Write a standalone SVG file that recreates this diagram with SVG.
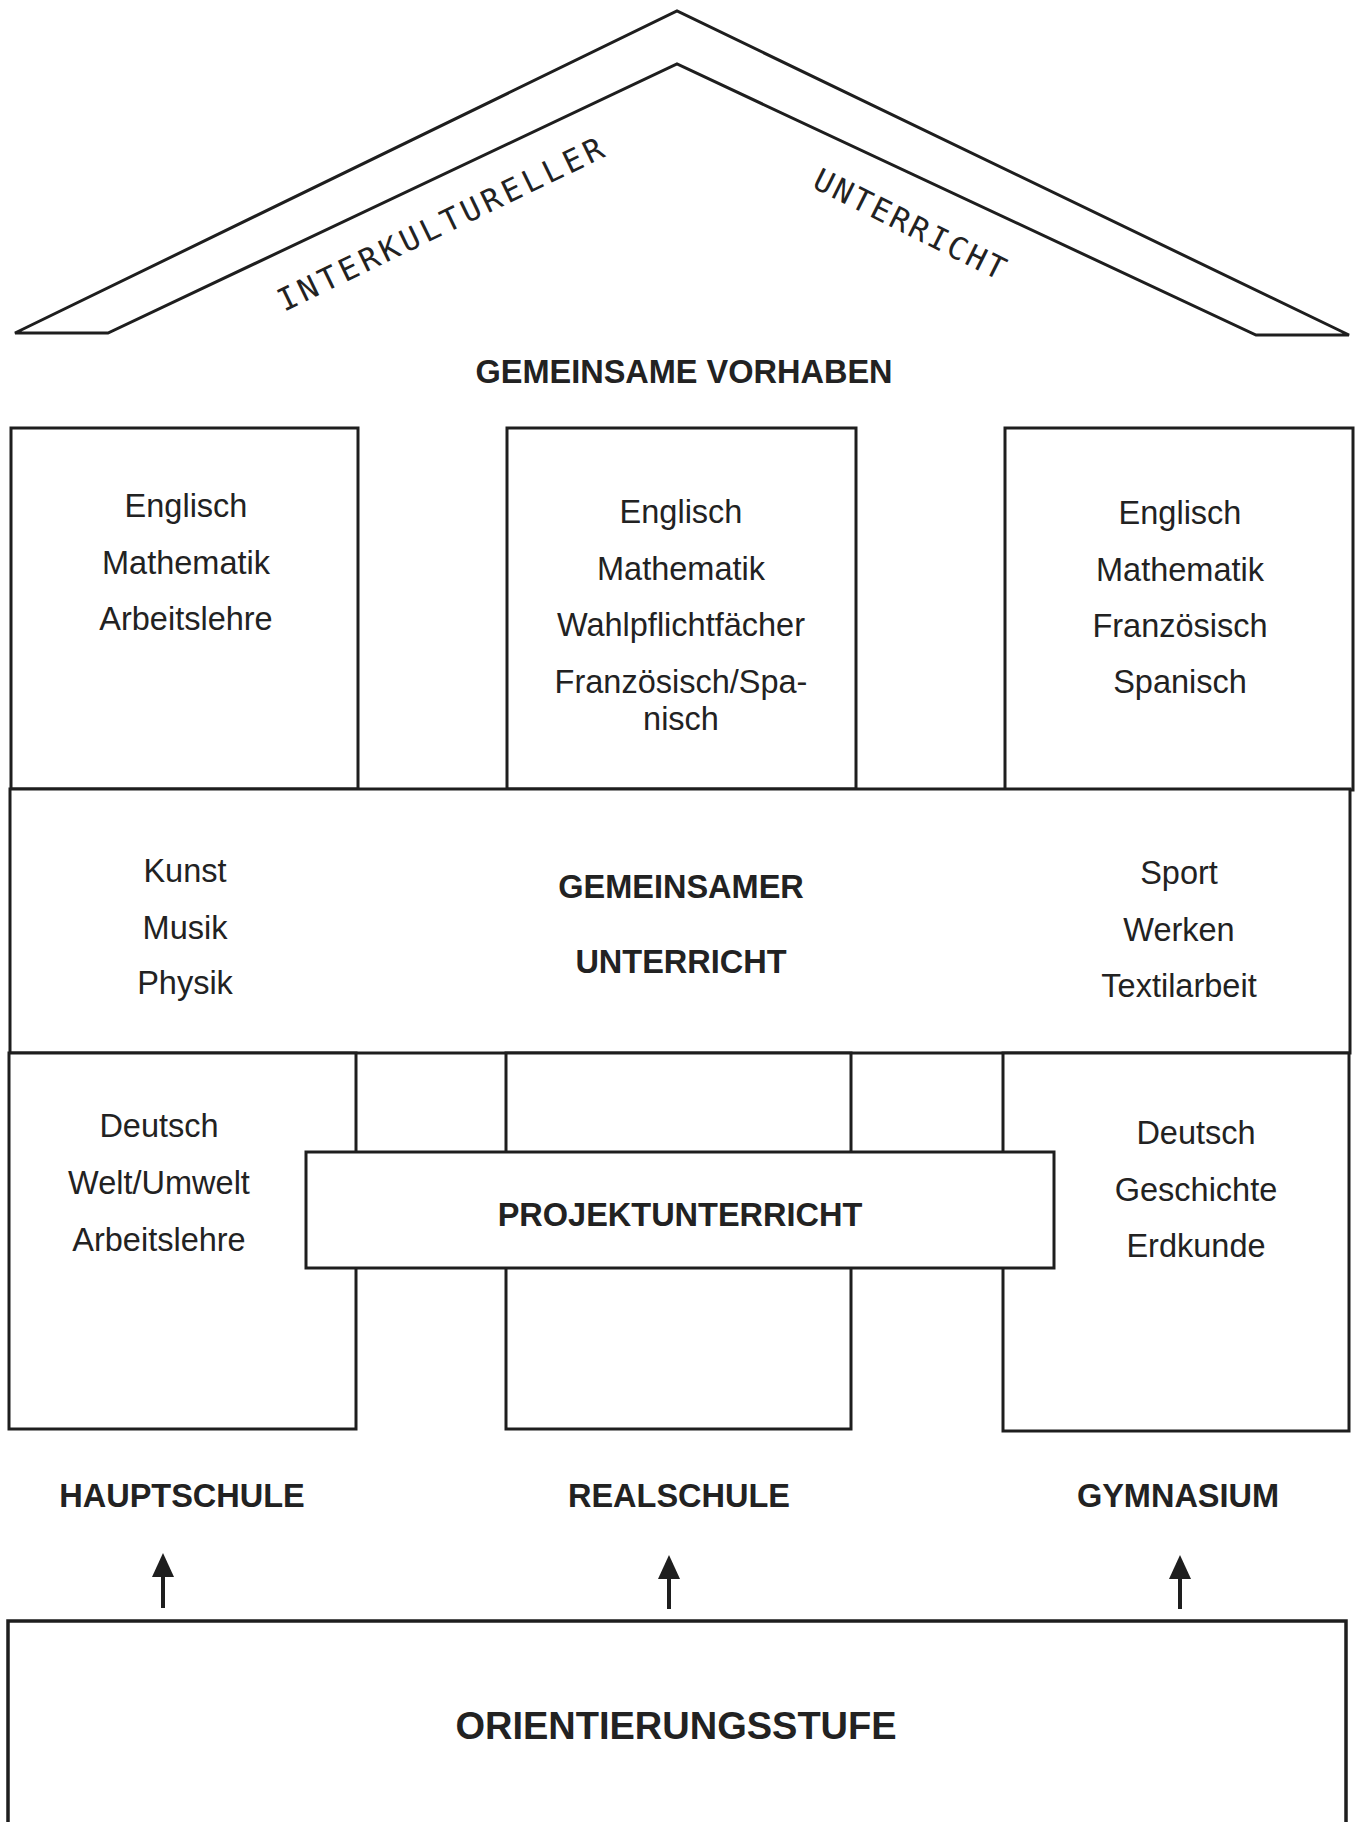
<svg xmlns="http://www.w3.org/2000/svg" width="1362" height="1822" viewBox="0 0 1362 1822">
<style>
.box{fill:#fff;stroke:#1e1e1e;stroke-width:3}
.roof{fill:none;stroke:#1e1e1e;stroke-width:3;stroke-linejoin:miter}
.t{font-family:"Liberation Sans",Arial,sans-serif;font-size:32.5px;fill:#222;text-anchor:middle}
.b{font-family:"Liberation Sans",Arial,sans-serif;font-size:32.5px;font-weight:bold;fill:#222;text-anchor:middle}
.r{font-family:"DejaVu Sans Mono",monospace;font-size:31px;fill:#222}
.arr{stroke:#1e1e1e;stroke-width:4}
</style>
<defs>
<marker id="ah" viewBox="0 0 24 22" refX="7" refY="11" markerWidth="24" markerHeight="22" markerUnits="userSpaceOnUse" orient="auto">
<path d="M0,0 L24,11 L0,22 z" fill="#1e1e1e"/>
</marker>
</defs>
<g id="roof">
<polygon class="roof" points="15,333 677,11 1349,335 1256,335 677,64 108,333"/>
<text class="r" transform="translate(284,312) rotate(-25.8)" textLength="358" lengthAdjust="spacing">INTERKULTURELLER</text>
<text class="r" transform="translate(811,187) rotate(26.5)" textLength="210" lengthAdjust="spacing">UNTERRICHT</text>
</g>
<g id="gemeinsame-vorhaben">
<text class="b" x="684" y="383">GEMEINSAME VORHABEN</text>
</g>
<g id="hauptschule-oben">
<rect class="box" x="11" y="428" width="347" height="361"/>
<text class="t" x="186" y="517">Englisch</text>
<text class="t" x="186" y="574">Mathematik</text>
<text class="t" x="186" y="630">Arbeitslehre</text>
</g>
<g id="realschule-oben">
<rect class="box" x="507" y="428" width="349" height="361"/>
<text class="t" x="681" y="523">Englisch</text>
<text class="t" x="681" y="580">Mathematik</text>
<text class="t" x="681" y="636">Wahlpflichtfächer</text>
<text class="t" x="681" y="693">Französisch/Spa-</text>
<text class="t" x="681" y="730">nisch</text>
</g>
<g id="gymnasium-oben">
<rect class="box" x="1005" y="428" width="348" height="362"/>
<text class="t" x="1180" y="524">Englisch</text>
<text class="t" x="1180" y="581">Mathematik</text>
<text class="t" x="1180" y="637">Französisch</text>
<text class="t" x="1180" y="693">Spanisch</text>
</g>
<g id="gemeinsamer-unterricht">
<rect class="box" x="10" y="789" width="1340" height="264"/>
<text class="t" x="185" y="882">Kunst</text>
<text class="t" x="185" y="939">Musik</text>
<text class="t" x="185" y="994">Physik</text>
<text class="b" x="681" y="898">GEMEINSAMER</text>
<text class="b" x="681" y="973">UNTERRICHT</text>
<text class="t" x="1179" y="884">Sport</text>
<text class="t" x="1179" y="941">Werken</text>
<text class="t" x="1179" y="997">Textilarbeit</text>
</g>
<g id="hauptschule-unten">
<rect class="box" x="9" y="1053" width="347" height="376"/>
<text class="t" x="159" y="1137">Deutsch</text>
<text class="t" x="159" y="1194">Welt/Umwelt</text>
<text class="t" x="159" y="1251">Arbeitslehre</text>
</g>
<g id="realschule-unten">
<rect class="box" x="506" y="1053" width="345" height="376"/>
</g>
<g id="gymnasium-unten">
<rect class="box" x="1003" y="1053" width="346" height="378"/>
<text class="t" x="1196" y="1144">Deutsch</text>
<text class="t" x="1196" y="1201">Geschichte</text>
<text class="t" x="1196" y="1257">Erdkunde</text>
</g>
<g id="projektunterricht">
<rect class="box" x="306" y="1152" width="748" height="116"/>
<text class="b" x="680" y="1226">PROJEKTUNTERRICHT</text>
</g>
<g id="hauptschule"><text class="b" x="182" y="1507">HAUPTSCHULE</text></g>
<g id="realschule"><text class="b" x="679" y="1507">REALSCHULE</text></g>
<g id="gymnasium"><text class="b" x="1178" y="1507">GYMNASIUM</text></g>
<g id="connectors">
<line class="arr" x1="163" y1="1608" x2="163" y2="1570" marker-end="url(#ah)"/>
<line class="arr" x1="669" y1="1609" x2="669" y2="1572" marker-end="url(#ah)"/>
<line class="arr" x1="1180" y1="1609" x2="1180" y2="1572" marker-end="url(#ah)"/>
</g>
<g id="orientierungsstufe">
<rect class="box" x="8" y="1621" width="1338" height="230" style="stroke-width:3.5"/>
<text class="b" x="676" y="1739" style="font-size:38px">ORIENTIERUNGSSTUFE</text>
</g>
</svg>
